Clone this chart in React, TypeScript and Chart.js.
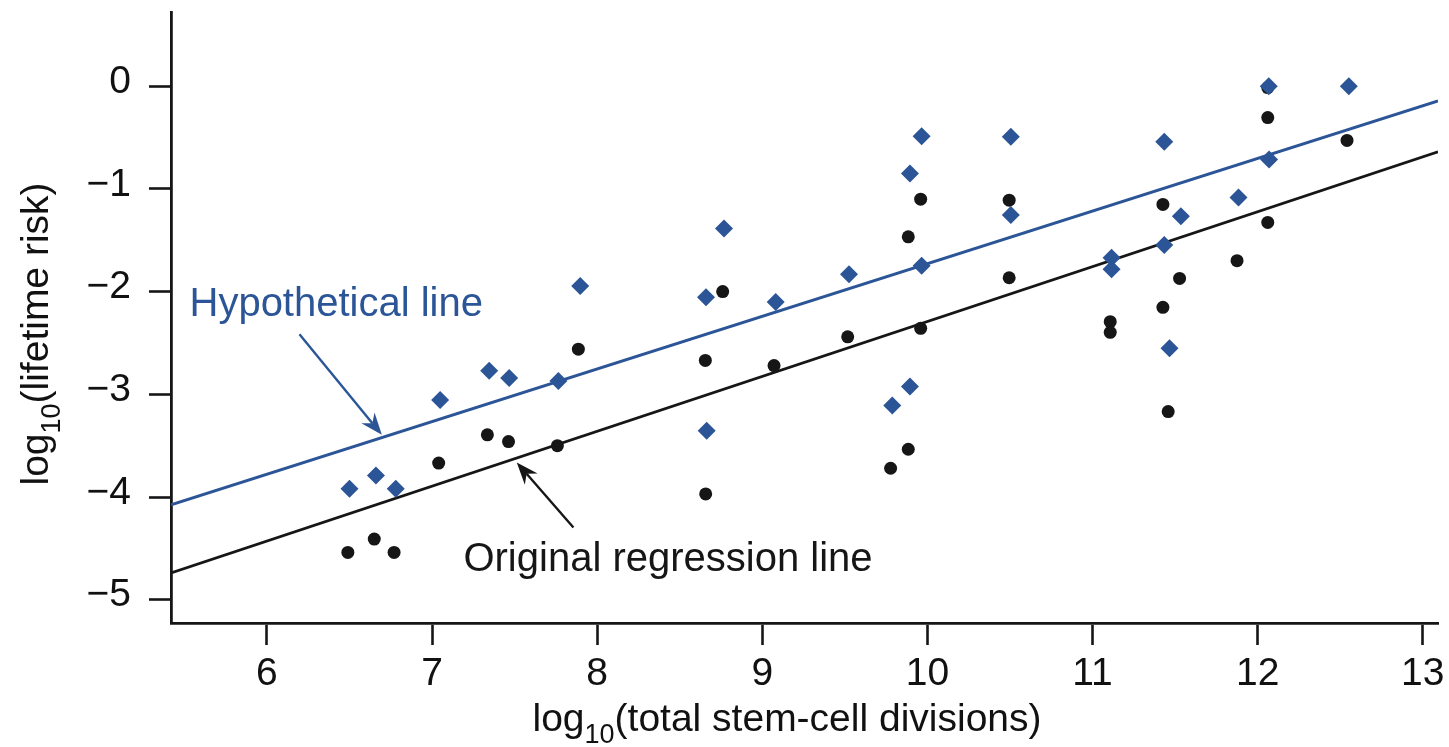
import React, { useEffect, useRef } from "react";
import { Chart, registerables } from "chart.js";

Chart.register(...registerables);

// ---------- data ----------
const xTickValues = [6, 7, 8, 9, 10, 11, 12, 13];
const yTickValues = [0, -1, -2, -3, -4, -5];

// Original data (black dots)
const originalX = [
  6.49, 6.65, 6.77, 7.04, 7.335, 7.463, 7.759, 7.886, 8.655, 8.657, 8.76,
  9.071, 9.517, 9.777, 9.884, 9.884, 9.959, 9.959, 10.495, 10.495, 11.107,
  11.107, 11.426, 11.426, 11.458, 11.527, 11.875, 12.061, 12.061, 12.061, 12.541,
];
const originalY = [
  -4.54, -4.41, -4.54, -3.67, -3.395, -3.46, -3.5, -2.56, -2.67, -3.97, -2.0,
  -2.72, -2.44, -3.72, -3.535, -1.466, -1.1, -2.357, -1.109, -1.865, -2.293,
  -2.396, -1.151, -2.153, -3.168, -1.871, -1.699, -0.013, -0.305, -1.326, -0.528,
];

// Hypothetical data (blue diamonds)
const hypotheticalX = [
  6.5, 6.66, 6.78, 7.049, 7.346, 7.467, 7.765, 7.897, 8.659, 8.663, 8.768,
  9.081, 9.525, 9.787, 9.894, 9.894, 9.965, 9.965, 10.505, 10.505, 11.115,
  11.115, 11.434, 11.434, 11.466, 11.535, 11.884, 12.067, 12.069, 12.552,
];
const hypotheticalY = [
  -3.92, -3.79, -3.92, -3.055, -2.77, -2.84, -2.87, -1.945, -2.056, -3.356, -1.385,
  -2.1, -1.83, -3.11, -2.925, -0.85, -0.486, -1.748, -0.493, -1.255, -1.67,
  -1.783, -0.541, -1.547, -2.552, -1.265, -1.083, 0.0, -0.713, 0.0,
];

// Regression lines (endpoints at the axis limits)
const lineX = [5.419, 13.092];
const originalLineY = [-4.74, -0.639];
const hypotheticalLineY = [-4.076, -0.143];

// Axis titles: [prefix, subscript, rest]
const xTitleParts = ["log", "10", "(total stem-cell divisions)"];
const yTitleParts = ["log", "10", "(lifetime risk)"];

// Annotations (data coordinates)
const annotationLabels = ["Hypothetical line", "Original regression line"];
const annotationTextX = [5.531, 7.19];
const annotationTextY = [-2.237, -4.725];
const arrowFromX = [6.197, 7.856];
const arrowFromY = [-2.415, -4.297];
const arrowToX = [6.696, 7.513];
const arrowToY = [-3.395, -3.664];

// ---------- styles ----------
const BLUE = "#2b5597";
const BLACK = "#161616";
const FONT = "'Liberation Sans', Arial, Helvetica, sans-serif";
const annotationColors = [BLUE, BLACK];

const zip = (xs: number[], ys: number[]) => xs.map((x, i) => ({ x, y: ys[i] }));
const fmt = (v: number) => (v < 0 ? "\u2212" + Math.abs(v) : String(v));

function drawSubTitle(ctx: CanvasRenderingContext2D, parts: string[], size: number) {
  // draws centred at (0,0) on the baseline
  const big = `${size}px ${FONT}`;
  const small = `${Math.round(size * 0.7)}px ${FONT}`;
  ctx.font = big;
  const w0 = ctx.measureText(parts[0]).width;
  const w2 = ctx.measureText(parts[2]).width;
  ctx.font = small;
  const w1 = ctx.measureText(parts[1]).width;
  const total = w0 + w1 + w2;
  let x = -total / 2;
  ctx.textAlign = "left";
  ctx.textBaseline = "alphabetic";
  ctx.font = big;
  ctx.fillText(parts[0], x, 0);
  x += w0;
  ctx.font = small;
  ctx.fillText(parts[1], x, size * 0.3);
  x += w1;
  ctx.font = big;
  ctx.fillText(parts[2], x, 0);
}

const titlesPlugin = {
  id: "axisTitles",
  afterDraw(chart: any) {
    const { ctx } = chart;
    ctx.save();
    ctx.fillStyle = "#111";
    // x title
    ctx.save();
    ctx.translate(787, 731);
    drawSubTitle(ctx, xTitleParts, 39);
    ctx.restore();
    // y title
    ctx.save();
    ctx.translate(48, 334);
    ctx.rotate(-Math.PI / 2);
    drawSubTitle(ctx, yTitleParts, 39);
    ctx.restore();
    ctx.restore();
  },
};

const annotationPlugin = {
  id: "textArrows",
  afterDatasetsDraw(chart: any) {
    const { ctx } = chart;
    const xs = chart.scales.x;
    const ys = chart.scales.y;
    ctx.save();
    annotationLabels.forEach((label, i) => {
      const color = annotationColors[i];
      ctx.font = `40px ${FONT}`;
      ctx.fillStyle = color;
      ctx.textAlign = "left";
      ctx.textBaseline = "alphabetic";
      ctx.fillText(label, xs.getPixelForValue(annotationTextX[i]), ys.getPixelForValue(annotationTextY[i]));

      const x1 = xs.getPixelForValue(arrowFromX[i]);
      const y1 = ys.getPixelForValue(arrowFromY[i]);
      const x2 = xs.getPixelForValue(arrowToX[i]);
      const y2 = ys.getPixelForValue(arrowToY[i]);
      const ang = Math.atan2(y2 - y1, x2 - x1);
      const len = 22;
      const half = 8.5;
      const notch = 15;
      const ux = Math.cos(ang), uy = Math.sin(ang);
      const px = -uy, py = ux;
      ctx.strokeStyle = color;
      ctx.lineWidth = 2.4;
      ctx.beginPath();
      ctx.moveTo(x1, y1);
      ctx.lineTo(x2 - ux * notch, y2 - uy * notch);
      ctx.stroke();
      ctx.beginPath();
      ctx.moveTo(x2, y2);
      ctx.lineTo(x2 - ux * len + px * half, y2 - uy * len + py * half);
      ctx.lineTo(x2 - ux * notch, y2 - uy * notch);
      ctx.lineTo(x2 - ux * len - px * half, y2 - uy * len - py * half);
      ctx.closePath();
      ctx.fill();
    });
    ctx.restore();
  },
};

export default function App() {
  const canvasRef = useRef<HTMLCanvasElement | null>(null);

  useEffect(() => {
    const canvas = canvasRef.current;
    if (!canvas) return;
    const chart = new Chart(canvas, {
      type: "scatter",
      data: {
        datasets: [
          {
            label: "Hypothetical",
            data: zip(hypotheticalX, hypotheticalY),
            pointStyle: "rectRot",
            pointRadius: 9,
            backgroundColor: BLUE,
            borderColor: BLUE,
            borderWidth: 0,
            order: 0,
          },
          {
            label: "Original",
            data: zip(originalX, originalY),
            pointStyle: "circle",
            pointRadius: 6.5,
            backgroundColor: BLACK,
            borderColor: BLACK,
            borderWidth: 0,
            order: 1,
          },
          {
            type: "line",
            label: "Hypothetical line",
            data: zip(lineX, hypotheticalLineY),
            borderColor: BLUE,
            borderWidth: 2.8,
            pointRadius: 0,
            fill: false,
            order: 2,
          } as any,
          {
            type: "line",
            label: "Original regression line",
            data: zip(lineX, originalLineY),
            borderColor: BLACK,
            borderWidth: 2.8,
            pointRadius: 0,
            fill: false,
            order: 3,
          } as any,
        ],
      },
      options: {
        animation: false,
        responsive: false,
        layout: { padding: { top: 12, right: 11, left: 0, bottom: 0 } },
        plugins: {
          legend: { display: false },
          tooltip: { enabled: false },
        },
        scales: {
          x: {
            type: "linear",
            min: 5.419,
            max: 13.092,
            afterBuildTicks: (s: any) => {
              s.ticks = xTickValues.map((v) => ({ value: v }));
            },
            afterFit: (s: any) => {
              s.height = 124;
              s.paddingLeft = 0;
              s.paddingRight = 0;
            },
            grid: {
              display: true,
              drawOnChartArea: false,
              drawTicks: true,
              tickLength: 22,
              tickWidth: 2.6,
              tickColor: BLACK,
            },
            border: { display: true, color: BLACK, width: 2.8 },
            ticks: {
              color: "#111",
              font: { family: FONT, size: 39 },
              padding: 6,
              maxRotation: 0,
              autoSkip: false,
              callback: (v: any) => fmt(Number(v)),
            },
            title: { display: false },
          },
          y: {
            type: "linear",
            min: -5.227,
            max: 0.723,
            afterBuildTicks: (s: any) => {
              s.ticks = yTickValues.map((v) => ({ value: v }));
            },
            afterFit: (s: any) => {
              s.width = 171;
              s.paddingTop = 0;
              s.paddingBottom = 0;
            },
            grid: {
              display: true,
              drawOnChartArea: false,
              drawTicks: true,
              tickLength: 22,
              tickWidth: 2.6,
              tickColor: BLACK,
            },
            border: { display: true, color: BLACK, width: 2.8 },
            ticks: {
              color: "#111",
              font: { family: FONT, size: 39 },
              padding: 18,
              labelOffset: -4,
              autoSkip: false,
              callback: (v: any) => fmt(Number(v)),
            },
            title: { display: false },
          },
        },
      },
      plugins: [annotationPlugin, titlesPlugin],
    });
    return () => chart.destroy();
  }, []);

  return (
    <div style={{ position: "fixed", left: 0, top: 0, width: 1449, height: 747, background: "#fff" }}>
      <canvas ref={canvasRef} width={1449} height={747} style={{ display: "block" }} />
    </div>
  );
}
